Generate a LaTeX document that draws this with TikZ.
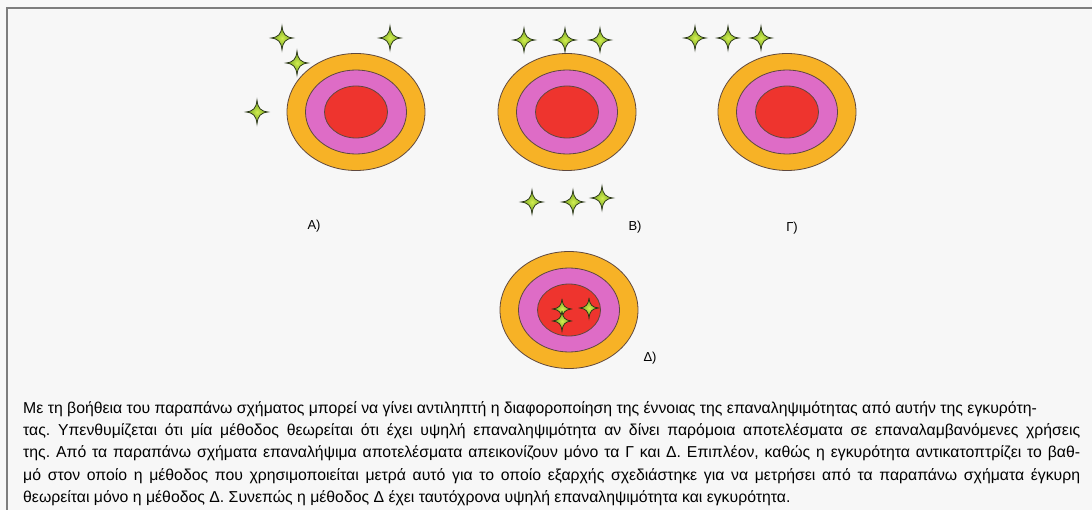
\documentclass[tikz,border=0pt]{standalone}
\usepackage{fontspec}
\setmainfont{Liberation Sans}
\usetikzlibrary{shapes.geometric,positioning}
\definecolor{paper}{RGB}{247,247,247}
\definecolor{edgegrey}{RGB}{125,125,125}
\definecolor{ringorange}{RGB}{247,178,38}
\definecolor{ringpink}{RGB}{222,108,198}
\definecolor{ringred}{RGB}{238,52,46}
\definecolor{ringline}{RGB}{95,72,62}
\definecolor{hitgreen}{RGB}{100,150,22}
\definecolor{hitcore}{RGB}{210,238,80}
\definecolor{hitline}{RGB}{35,45,20}

\begin{document}
\begin{tikzpicture}[x=1pt,y=-1pt,
  ring/.style={ellipse,draw=ringline,line width=0.8pt,inner sep=0pt},
  outerring/.style={ring,fill=ringorange,minimum width=138pt,minimum height=117pt},
  midring/.style={ring,fill=ringpink,minimum width=101pt,minimum height=84pt},
  innerring/.style={ring,fill=ringred,minimum width=63pt,minimum height=52pt},
  tag/.style={font=\fontsize{13}{15}\selectfont,inner sep=1pt},
  hit/.pic={
    \shadedraw[draw=hitline,line width=0.7pt,inner color=hitcore,outer color=hitgreen]
      (0,-12) .. controls (1,-3.5) and (3.5,-1) .. (11,0)
      .. controls (3.5,1) and (1,3.5) .. (0,12)
      .. controls (-1,3.5) and (-3.5,1) .. (-11,0)
      .. controls (-3.5,-1) and (-1,-3.5) .. cycle;
  },
]
\useasboundingbox[fill=paper] (0,0) rectangle (1092,510);
\draw[edgegrey,line width=1.5pt] (7,510) -- (7,8) -- (1092,8);

% targets
\node[outerring] (tgtA) at (356,112) {};
\node[midring] (tgtAmid) at (tgtA) {};
\node[innerring] (tgtAin) at (tgtA) {};

\node[outerring] (tgtB) at (567,112) {};
\node[midring] (tgtBmid) at (tgtB) {};
\node[innerring] (tgtBin) at (tgtB) {};

\node[outerring] (tgtG) at (787,112) {};
\node[midring] (tgtGmid) at (tgtG) {};
\node[innerring] (tgtGin) at (tgtG) {};

\node[outerring] (tgtD) at (569,310) {};
\node[midring] (tgtDmid) at (tgtD) {};
\node[innerring] (tgtDin) at (tgtD) {};

% hits
\pic at (282,38) {hit};
\pic at (390,38) {hit};
\pic at (297,63) {hit};
\pic at (257,112) {hit};

\pic at (524,40) {hit};
\pic at (565,40) {hit};
\pic at (600,40) {hit};
\pic at (532,202) {hit};
\pic at (573,202) {hit};
\pic at (602,198) {hit};

\pic at (695,38) {hit};
\pic at (728,38) {hit};
\pic at (761,38) {hit};

\pic[scale=0.85] at (562,309) {hit};
\pic[scale=0.85] at (589,308) {hit};
\pic[scale=0.85] at (562,321) {hit};

% labels
\node[tag] (lblA) at (314,226) {A)};
\node[tag] (lblB) at (635,227) {B)};
\node[tag] (lblG) at (792,228) {Γ)};
\node[tag] (lblD) at (650,358) {Δ)};

\node[anchor=north west,inner sep=0pt,text width=1057pt,align=justify,
  font=\fontsize{15.8}{22.3}\selectfont] (caption) at (23,401)
  {\frenchspacing\hyphenpenalty=10000\exhyphenpenalty=10000\tolerance=10000
  Με τη βοήθεια του παραπάνω σχήματος μπορεί να γίνει αντιληπτή η διαφοροποίηση της έννοιας της επαναληψιμότητας από αυτήν της εγκυρότη-\\
  τας. Υπενθυμίζεται ότι μία μέθοδος θεωρείται ότι έχει υψηλή επαναληψιμότητα αν δίνει παρόμοια αποτελέσματα σε επαναλαμβανόμενες χρήσεις\linebreak
  της. Από τα παραπάνω σχήματα επαναλήψιμα αποτελέσματα απεικονίζουν μόνο τα Γ και Δ. Επιπλέον, καθώς η εγκυρότητα αντικατοπτρίζει το βαθ-\linebreak
  μό στον οποίο η μέθοδος που χρησιμοποιείται μετρά αυτό για το οποίο εξαρχής σχεδιάστηκε για να μετρήσει από τα παραπάνω σχήματα έγκυρη\linebreak
  θεωρείται μόνο η μέθοδος Δ. Συνεπώς η μέθοδος Δ έχει ταυτόχρονα υψηλή επαναληψιμότητα και εγκυρότητα.};
\end{tikzpicture}
\end{document}
